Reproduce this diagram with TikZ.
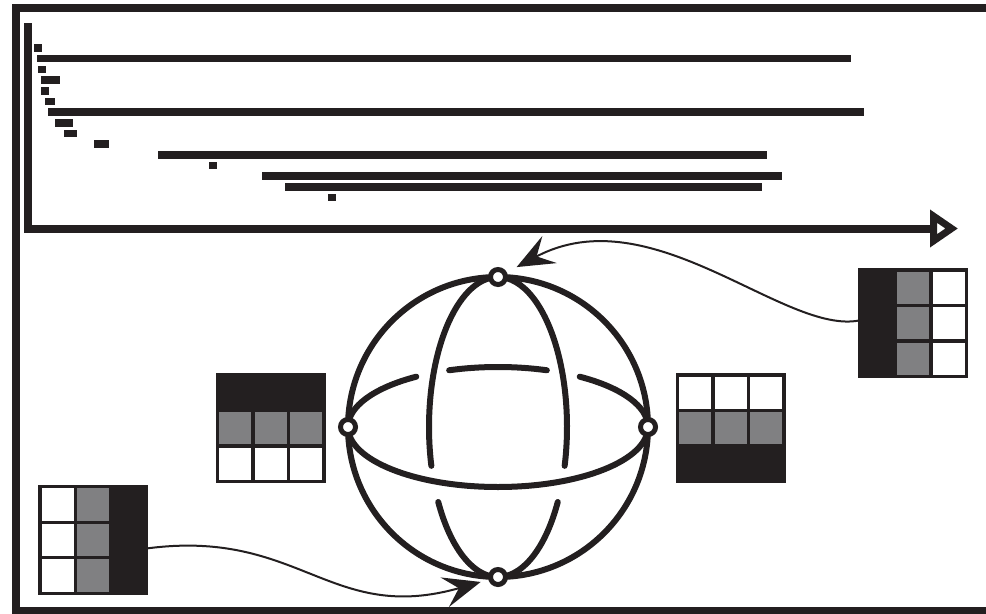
\documentclass[tikz,border=0pt]{standalone}
\usetikzlibrary{arrows.meta}
\definecolor{ink}{RGB}{35,31,32}
\definecolor{shade}{RGB}{128,128,130}
\tikzset{every picture/.style={line width=0.75pt}}

% 3x3 grid: name, left, top, nine fill colours row by row
\newcommand{\qgrid}[4]{%
    \foreach \cf [count=\i from 0] in {#4} {
        \pgfmathtruncatemacro\col{mod(\i,3)}
        \pgfmathtruncatemacro\row{div(\i,3)}
        \filldraw[cellbox, fill=\cf] ({#2+\col*35.5},{#3+\row*35.5}) rectangle ++(35.5,35.5);
    }
    \coordinate (#1-w) at (#2,{#3+53.25});
    \coordinate (#1-e) at ({#2+106.5},{#3+53.25});
}

\begin{document}
\begin{tikzpicture}[
            x=0.75pt,
            y=0.75pt,
            yscale=-1,
            xscale=1,
            frameline/.style={draw=ink, line width=6pt},
            axisline/.style={draw=ink, line width=6pt, -{Triangle[open, length=21pt, width=27pt]}},
            bar/.style={fill=ink},
            sphereline/.style={draw=ink, line width=4.5pt, line cap=round},
            pole/.style={circle, draw=ink, fill=white, line width=3.75pt, minimum size=11.25pt, inner sep=0pt},
            cellbox/.style={draw=ink, line width=2.5pt},
            flow/.style={draw=ink, line width=1.5pt, -{Stealth[length=28pt, width=23pt, inset=11pt]}}
        ]
            \useasboundingbox (0,0) rectangle (986,614);
            % frame, open on the right
            \draw[frameline] (995,7.5) -- (15.5,7.5) -- (15.5,611) -- (995,611);
            % chart
            \draw[axisline] (28,23) -- (28,228.5) -- (958,228.5);
            \foreach \r/\a/\b in {0/34/42, 1/37/851, 2/38/46, 3/41/60, 4/41/49, 5/45/55, 6/48/864, 7/55/73, 8/64/77, 9/94/109, 10/158/767, 11/209/217, 12/262/782, 13/285/762, 14/328/336}
                \fill[bar] (\a,{44.2+10.68*\r}) rectangle (\b,{51.8+10.68*\r});
            % sphere
            \coordinate (c) at (498,427);
            \draw[sphereline] (c) circle[radius=150];
            \draw[sphereline] ([shift={(0:150 and 60)}]c) arc[start angle=0, end angle=180, x radius=150, y radius=60];
            \draw[sphereline] ([shift={(180:150 and 60)}]c) arc[start angle=180, end angle=237, x radius=150, y radius=60];
            \draw[sphereline] ([shift={(251:150 and 60)}]c) arc[start angle=251, end angle=289, x radius=150, y radius=60];
            \draw[sphereline] ([shift={(303:150 and 60)}]c) arc[start angle=303, end angle=360, x radius=150, y radius=60];
            \draw[sphereline] ([shift={(-90:69 and 150)}]c) arc[start angle=-90, end angle=15, x radius=69, y radius=150];
            \draw[sphereline] ([shift={(30:69 and 150)}]c) arc[start angle=30, end angle=150, x radius=69, y radius=150];
            \draw[sphereline] ([shift={(165:69 and 150)}]c) arc[start angle=165, end angle=270, x radius=69, y radius=150];
            \node[pole] (ptop) at (498,277) {};
            \node[pole] (pbot) at (498,577) {};
            \node[pole] (pleft) at (348,427) {};
            \node[pole] (pright) at (648,427) {};
            % grids
            \qgrid{gmid}{217.4}{375}{ink,ink,ink,shade,shade,shade,white,white,white}
            \qgrid{gright}{677.4}{375}{white,white,white,shade,shade,shade,ink,ink,ink}
            \qgrid{gtop}{860}{270}{ink,shade,white,ink,shade,white,ink,shade,white}
            \qgrid{gbot}{40}{486.7}{white,shade,ink,white,shade,ink,white,shade,ink}
            % connectors
            \draw[flow, shorten >=8.3pt] ([yshift=-2.2pt]gtop-w) .. controls (785,336) and (652,195) .. (ptop);
            \draw[flow, shorten >=6pt] ([yshift=6.4pt]gbot-e) .. controls (300,528) and (330,625) .. (pbot);
\end{tikzpicture}
\end{document}
